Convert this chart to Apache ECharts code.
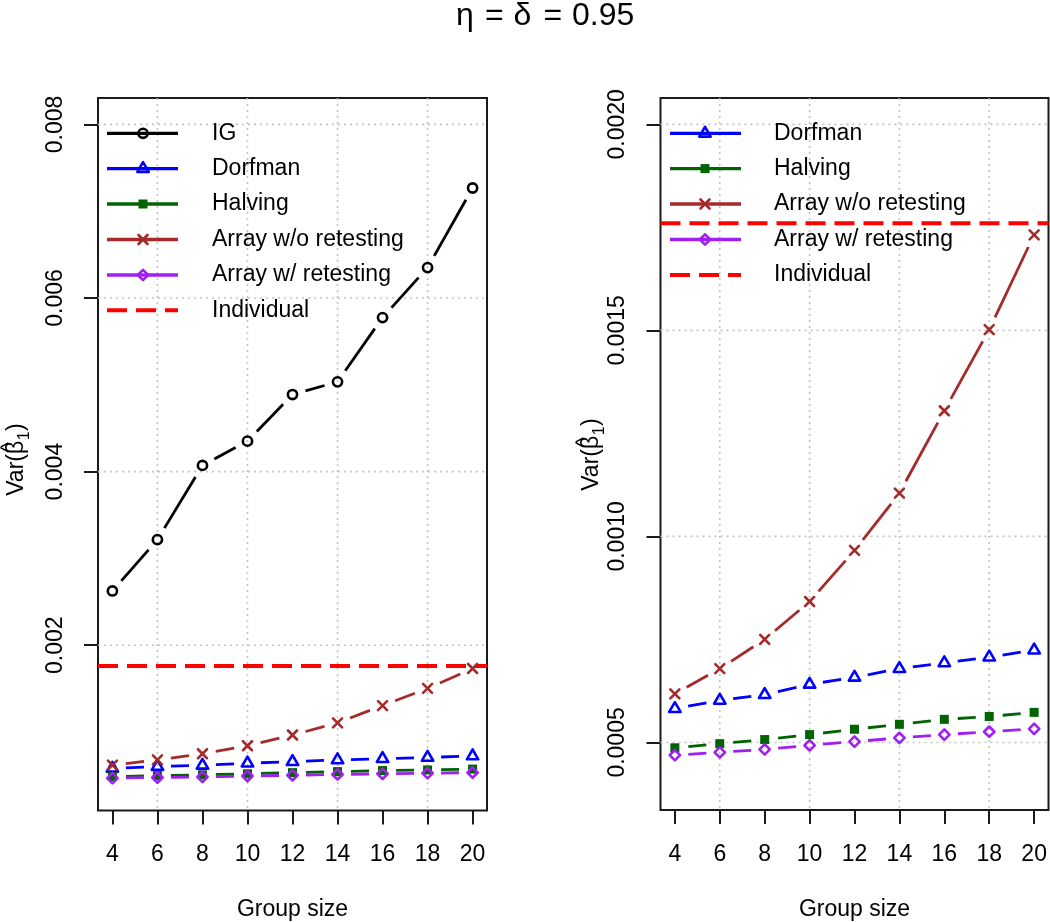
<!DOCTYPE html>
<html><head><meta charset="utf-8">
<script src="https://cdn.jsdelivr.net/npm/echarts@6/dist/echarts.min.js"></script>
<style>html,body{margin:0;padding:0;background:#fff}#c{width:1050px;height:922px}</style>
</head><body><div id="c"></div>
<script>
// ---------- data ----------
const groupSize = [4, 6, 8, 10, 12, 14, 16, 18, 20];
const igVar = [0.002625, 0.003216, 0.004071, 0.004351, 0.004888, 0.005034, 0.005774, 0.00635, 0.007267];
const dorfmanVar = [0.000582, 0.000602, 0.000616, 0.000641, 0.000658, 0.000679, 0.000693, 0.000707, 0.000724];
const halvingVar = [0.000487, 0.000497, 0.000507, 0.000519, 0.000532, 0.000544, 0.000556, 0.000563, 0.000573];
const arrayNoRetestVar = [0.000618, 0.000679, 0.00075, 0.000842, 0.000966, 0.001105, 0.001305, 0.001502, 0.001732];
const arrayRetestVar = [0.000469, 0.000476, 0.000483, 0.000493, 0.000502, 0.000511, 0.000519, 0.000526, 0.000533];
const individualVar = 0.00176;
const xTicks = [4, 6, 8, 10, 12, 14, 16, 18, 20];
const xGridLines = [6, 10, 14, 18];
const yTicksLeft = [0.002, 0.004, 0.006, 0.008];
const yTickLabelsLeft = ['0.002', '0.004', '0.006', '0.008'];
const yTicksRight = [0.0005, 0.0010, 0.0015, 0.0020];
const yTickLabelsRight = ['0.0005', '0.0010', '0.0015', '0.0020'];
const titleParts = ['η', '=', 'δ', '=', '0.95'];
const xTitle = 'Group size';
const yTitleParts = ['Var(β', '1', ')', '^'];

// ---------- styling ----------
const FONT = '"Liberation Sans", Arial, sans-serif';
const GAP = 13.5;
const LW = 2.8;
const MLW = 2.6;
const methods = [
  {name: 'IG', values: igVar, color: '#000000', shape: 'circle'},
  {name: 'Dorfman', values: dorfmanVar, color: '#0000FF', shape: 'triangle'},
  {name: 'Halving', values: halvingVar, color: '#006400', shape: 'square'},
  {name: 'Array w/o retesting', values: arrayNoRetestVar, color: '#A52A2A', shape: 'cross'},
  {name: 'Array w/ retesting', values: arrayRetestVar, color: '#A020F0', shape: 'diamond'}
];

function markerEl(shape, cx, cy, color) {
  const st = {fill: 'none', stroke: color, lineWidth: MLW, lineJoin: 'round'};
  switch (shape) {
    case 'circle': return {type: 'circle', shape: {cx, cy, r: 4.6}, style: st};
    case 'triangle': return {type: 'polygon', shape: {points: [[cx, cy - 6.5], [cx - 5.7, cy + 3.3], [cx + 5.7, cy + 3.3]]}, style: st};
    case 'square': return {type: 'rect', shape: {x: cx - 4.5, y: cy - 4.5, width: 9, height: 9}, style: {fill: color}};
    case 'cross': return {type: 'group', children: [
      {type: 'line', shape: {x1: cx - 4.5, y1: cy - 4.5, x2: cx + 4.5, y2: cy + 4.5}, style: {stroke: color, lineWidth: MLW, lineCap: 'round'}},
      {type: 'line', shape: {x1: cx - 4.5, y1: cy + 4.5, x2: cx + 4.5, y2: cy - 4.5}, style: {stroke: color, lineWidth: MLW, lineCap: 'round'}}
    ]};
    case 'diamond': return {type: 'polygon', shape: {points: [[cx, cy - 5.2], [cx + 5.2, cy], [cx, cy + 5.2], [cx - 5.2, cy]]}, style: st};
  }
}

function dataSeries(m, gi) {
  const vals = m.values;
  const data = vals.map((v, i) => {
    const j = Math.min(i + 1, vals.length - 1);
    return [groupSize[i], v, groupSize[j], vals[j]];
  });
  return {
    type: 'custom', name: m.name, xAxisIndex: gi, yAxisIndex: gi, data,
    encode: {x: 0, y: 1}, z: 3, silent: true,
    renderItem: function (params, api) {
      const p = api.coord([api.value(0), api.value(1)]);
      const q = api.coord([api.value(2), api.value(3)]);
      const children = [];
      const dx = q[0] - p[0], dy = q[1] - p[1];
      const d = Math.hypot(dx, dy);
      if (d > 2 * GAP) {
        const ux = dx / d, uy = dy / d;
        children.push({type: 'line', shape: {x1: p[0] + ux * GAP, y1: p[1] + uy * GAP, x2: q[0] - ux * GAP, y2: q[1] - uy * GAP},
          style: {stroke: m.color, lineWidth: LW, lineCap: 'butt'}});
      }
      children.push(markerEl(m.shape, p[0], p[1], m.color));
      return {type: 'group', children};
    }
  };
}

// dotted reference grid (vertical at xGridLines, horizontal at y ticks)
function vGrid(gi, yRef) {
  return {type: 'custom', xAxisIndex: gi, yAxisIndex: gi, z: 1, silent: true,
    data: xGridLines.map(v => [v, yRef]), encode: {x: 0, y: 1},
    renderItem: (params, api) => {
      const cs = params.coordSys; const p = api.coord([api.value(0), api.value(1)]);
      return {type: 'line', shape: {x1: p[0], y1: cs.y, x2: p[0], y2: cs.y + cs.height},
        style: {stroke: '#c4c4c4', lineWidth: 1.6, lineDash: [2, 4]}};
    }};
}
function hGrid(gi, yTicks) {
  return {type: 'custom', xAxisIndex: gi, yAxisIndex: gi, z: 1, silent: true,
    data: yTicks.map(v => [xTicks[0], v]), encode: {x: 0, y: 1},
    renderItem: (params, api) => {
      const cs = params.coordSys; const p = api.coord([api.value(0), api.value(1)]);
      return {type: 'line', shape: {x1: cs.x, y1: p[1], x2: cs.x + cs.width, y2: p[1]},
        style: {stroke: '#c4c4c4', lineWidth: 1.6, lineDash: [2, 4]}};
    }};
}
function individualLine(gi) {
  return {type: 'custom', name: 'Individual', xAxisIndex: gi, yAxisIndex: gi, z: 2, silent: true,
    data: [[xTicks[0], individualVar]], encode: {x: 0, y: 1},
    renderItem: (params, api) => {
      const cs = params.coordSys; const p = api.coord([api.value(0), api.value(1)]);
      return {type: 'line', shape: {x1: cs.x, y1: p[1], x2: cs.x + cs.width, y2: p[1]},
        style: {stroke: '#FF0000', lineWidth: 4, lineDash: [20, 9]}};
    }};
}

function legendGraphics(items, lineX0, lineX1, markX, textX, rowY) {
  const els = [];
  items.forEach((it, k) => {
    const y = rowY[k];
    if (it.dashed) {
      els.push({type: 'line', z: 100, shape: {x1: lineX0, y1: y, x2: lineX1, y2: y},
        style: {stroke: it.color, lineWidth: 4, lineDash: [20, 9]}});
    } else {
      els.push({type: 'line', z: 100, shape: {x1: lineX0, y1: y, x2: lineX1, y2: y},
        style: {stroke: it.color, lineWidth: 3.3}});
      const mk = markerEl(it.shape, markX, y, it.color);
      mk.z = 101;
      els.push(mk);
    }
    els.push({type: 'text', z: 102, x: textX, y: y,
      style: {text: it.name, fill: '#000', fontSize: 23, fontFamily: FONT, align: 'left', verticalAlign: 'middle'}});
  });
  return els;
}

// rotated y-axis title  Var(β̂₁)
const measCtx = document.createElement('canvas').getContext('2d');
function tw(txt, size) { measCtx.font = size + 'px ' + FONT; return measCtx.measureText(txt).width; }
function yTitleGraphic(baseX, centerY) {
  const w0 = tw(yTitleParts[0], 23), w1 = tw(yTitleParts[1], 16), w2 = tw(yTitleParts[2], 23);
  const wVar = tw('Var(', 23), wBeta = tw('β', 23);
  const total = w0 + w1 + w2;
  const x0 = -total / 2;
  const base = {fill: '#000', fontFamily: FONT, verticalAlign: 'middle'};
  return {type: 'group', x: baseX, y: centerY, rotation: Math.PI / 2, children: [
    {type: 'text', x: x0, y: -8.2, style: Object.assign({text: yTitleParts[0], fontSize: 23, align: 'left'}, base)},
    {type: 'text', x: x0 + w0 + 0.5, y: -0.2, style: Object.assign({text: yTitleParts[1], fontSize: 16, align: 'left'}, base)},
    {type: 'text', x: x0 + w0 + w1 + 1, y: -8.2, style: Object.assign({text: yTitleParts[2], fontSize: 23, align: 'left'}, base)},
    {type: 'text', x: x0 + wVar + wBeta / 2, y: -16, scaleX: 1.1, style: Object.assign({text: yTitleParts[3], fontSize: 20, align: 'center'}, base)}
  ]};
}

const xAxisCommon = (gi) => ({
  type: 'value', gridIndex: gi, min: 3.36, max: 20.64,
  axisLine: {show: false}, splitLine: {show: false},
  axisTick: {show: true, length: 14, customValues: xTicks, lineStyle: {color: '#1a1a1a', width: 2}},
  axisLabel: {customValues: xTicks, margin: 33, fontSize: 23, fontFamily: FONT, color: '#000'},
  name: xTitle, nameLocation: 'middle', nameGap: 88,
  nameTextStyle: {fontSize: 23, fontFamily: FONT, color: '#000'}
});
const yAxisCommon = (gi, min, max, ticks, labels) => ({
  type: 'value', gridIndex: gi, min, max,
  axisLine: {show: false}, splitLine: {show: false},
  axisTick: {show: true, length: 14, customValues: ticks, lineStyle: {color: '#1a1a1a', width: 2}},
  axisLabel: {customValues: ticks, rotate: 90, margin: 31, fontSize: 23, fontFamily: FONT, color: '#000',
    formatter: v => { const k = ticks.findIndex(t => Math.abs(t - v) < 1e-12); return k >= 0 ? labels[k] : ''; }}
});

const legendLeft = methods.map(m => ({name: m.name, color: m.color, shape: m.shape}))
  .concat([{name: 'Individual', color: '#FF0000', dashed: true}]);
const legendRight = legendLeft.slice(1);

const titleRich = {};
const titleWidths = [29, 28.5, 30, 28.5, null];
let titleStr = '';
titleParts.forEach((t, i) => {
  const key = 't' + i;
  titleRich[key] = {fontSize: 32, fontFamily: FONT, color: '#000'};
  if (titleWidths[i]) titleRich[key].width = titleWidths[i];
  titleStr += '{' + key + '|' + t + '}';
});

const chart = echarts.init(document.getElementById('c'), null, {renderer: 'canvas'});
chart.setOption({
  animation: false,
  backgroundColor: '#fff',
  title: {text: titleStr, left: 451, top: -5,
    textStyle: {fontSize: 32, fontWeight: 'normal', fontFamily: FONT, color: '#000', rich: titleRich}},
  grid: [
    {left: 98, top: 98, width: 389, height: 712.5, show: true, borderColor: '#1a1a1a', borderWidth: 2,
      backgroundColor: 'transparent', containLabel: false, outerBoundsMode: 'none'},
    {left: 660.5, top: 98, width: 388, height: 712, show: true, borderColor: '#1a1a1a', borderWidth: 2,
      backgroundColor: 'transparent', containLabel: false, outerBoundsMode: 'none'}
  ],
  xAxis: [xAxisCommon(0), xAxisCommon(1)],
  yAxis: [
    yAxisCommon(0, 0.000096, 0.008304, yTicksLeft, yTickLabelsLeft),
    yAxisCommon(1, 0.000336, 0.002064, yTicksRight, yTickLabelsRight)
  ],
  series: [
    vGrid(0, yTicksLeft[0]), hGrid(0, yTicksLeft), individualLine(0),
    ...methods.map(m => dataSeries(m, 0)),
    vGrid(1, yTicksRight[0]), hGrid(1, yTicksRight), individualLine(1),
    ...methods.slice(1).map(m => dataSeries(m, 1))
  ],
  graphic: [
    yTitleGraphic(25, 460),
    yTitleGraphic(600, 455),
    ...legendGraphics(legendLeft, 107, 178, 143, 212, [133.3, 168.6, 204, 239.5, 275, 310.3]),
    ...legendGraphics(legendRight, 670, 741, 705, 774, [133.3, 168.6, 204, 239.5, 275])
  ]
});
</script></body></html>
